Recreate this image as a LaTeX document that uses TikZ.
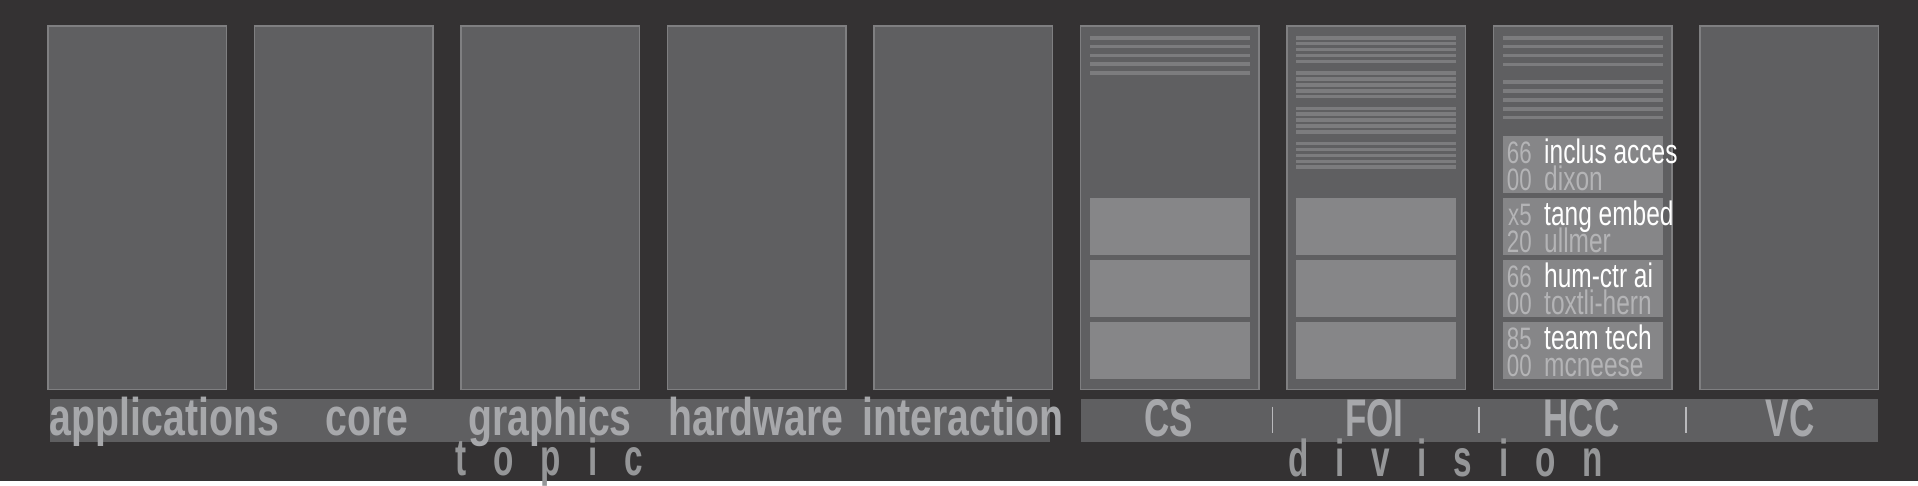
\documentclass[tikz,border=0pt]{standalone}
\usepackage{fontspec}
\usepackage{tikz}
\usetikzlibrary{positioning, calc}
\setmainfont{Liberation Sans}
\newfontfamily\labelfont[FakeStretch=0.74]{Liberation Sans}
\newfontfamily\capsfont[FakeStretch=0.66]{Liberation Sans}
\newfontfamily\axisfont[FakeStretch=0.64,LetterSpace=52]{Liberation Sans}
\newfontfamily\cardfont[FakeStretch=0.72]{Liberation Sans}

\definecolor{bgdark}{HTML}{343233}
\definecolor{colfill}{HTML}{5F5F61}
\definecolor{coledge}{HTML}{7F7F81}
\definecolor{barfill}{HTML}{7C7C7E}
\definecolor{cardfill}{HTML}{868688}
\definecolor{labgray}{HTML}{A7A8AB}
\definecolor{axisgray}{HTML}{959698}
\definecolor{numgray}{HTML}{B4B4B6}

\tikzstyle{column} = [draw=coledge, fill=colfill, line width=1.5pt]
\tikzstyle{bar} = [fill=barfill]
\tikzstyle{card} = [fill=cardfill]
\tikzstyle{sepline} = [draw=labgray!80, line width=1.5pt]
\tikzstyle{catlabel} = [anchor=base, inner sep=0pt, text=labgray, font=\labelfont\bfseries\fontsize{53}{53}\selectfont]
\tikzstyle{divlabel} = [anchor=base, inner sep=0pt, text=labgray, font=\capsfont\bfseries\fontsize{53}{53}\selectfont]
\tikzstyle{axistitle} = [anchor=base west, inner sep=0pt, text=axisgray, font=\axisfont\bfseries\fontsize{52}{52}\selectfont]
\tikzstyle{cardnum} = [anchor=base east, inner sep=0pt, text=numgray, font=\cardfont\fontsize{31}{31}\selectfont]
\tikzstyle{cardtitle} = [anchor=base west, inner sep=0pt, text=white, font=\cardfont\fontsize{34}{34}\selectfont]
\tikzstyle{cardname} = [cardtitle, text=numgray]

\begin{document}
\begin{tikzpicture}[x=1pt, y=-1pt]
  \useasboundingbox (0,0) rectangle (1918,486);
  \fill[white] (0,0) rectangle (1918,486);
  \fill[bgdark] (0,0) rectangle (1918,480.5);

  % nine columns
  \foreach \i in {0,...,8}
    \draw[column] ({48.2+206.5*\i},26) rectangle ++(178.2,363.5);

  % CS
  \foreach \k in {0,...,4}
    \fill[bar] (1089.7,{36+8.8*\k}) rectangle ++(160.2,3.6);
  % FOI
  \foreach \g in {0,...,3}
    \foreach \k in {0,...,4}
      \fill[bar] (1296.2,{36+35.3*\g+5.9*\k}) rectangle ++(160.2,3.6);
  % HCC
  \foreach \k in {0,1,2,3,5,6,7,8,9}
    \fill[bar] (1502.7,{36+8.87*\k}) rectangle ++(160.2,3.6);

  \foreach \x in {1089.7,1296.2}
    \foreach \k in {1,2,3}
      \fill[card] (\x,{136+61.9*\k}) rectangle ++(160.2,57.5);
  \foreach \k in {0,...,3}
    \fill[card] (1502.7,{136+61.9*\k}) rectangle ++(160.2,57.5);

  \foreach \num/\yr/\title/\who [count=\k from 0] in
      {66/00/inclus acces/dixon, x5/20/tang embed/ullmer,
       66/00/hum-ctr ai/toxtli-hern, 85/00/team tech/mcneese} {
    \node[cardnum] (num\k) at (1532,{163.3+61.9*\k}) {\num};
    \node[cardnum] (yr\k) at (1532,{191+61.9*\k}) {\yr};
    \node[cardtitle] (title\k) at (1544,{163.3+61.9*\k}) {\title};
    \node[cardname] (who\k) at (1544,{191+61.9*\k}) {\who};
  }

  % label strips
  \fill[colfill] (49.5,399) rectangle (1049.8,442.3);
  \fill[colfill] (1081,399) rectangle (1878,442.3);

  \node[catlabel] (applications) at (164.4,435) {applications};
  \node[catlabel] (core) at (367,435) {core};
  \node[catlabel] (graphics) at (550,435) {graphics};
  \node[catlabel] (hardware) at (756,435) {hardware};
  \node[catlabel] (interaction) at (963,435) {interaction};

  \node[divlabel] (cs) at (1168.3,436) {CS};
  \node[divlabel] (foi) at (1374.5,436) {FOI};
  \node[divlabel] (hcc) at (1581.5,436) {HCC};
  \node[divlabel] (vc) at (1790,436) {VC};
  \foreach \x in {1272.3,1479,1686}
    \draw[sepline] (\x,406.7) -- (\x,433.3);

  \node[axistitle] (topic) at (455,475) {topic};
  \node[axistitle] (division) at (1288,476.7) {division};
\end{tikzpicture}
\end{document}
